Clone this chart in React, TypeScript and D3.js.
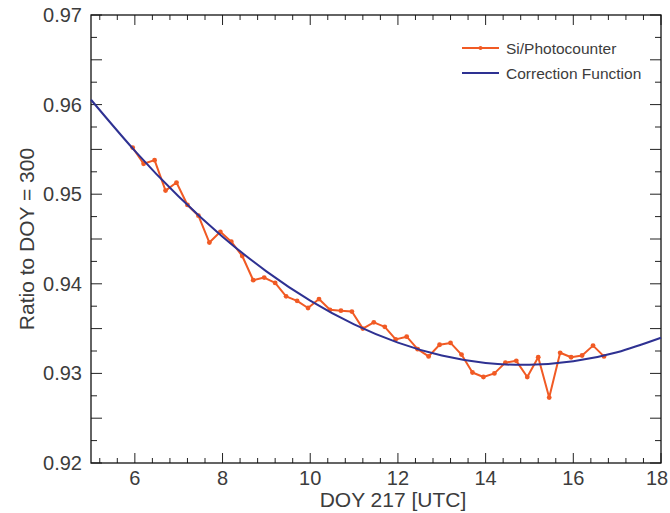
import React from "react";
import * as d3 from "d3";

const W = 670;
const H = 513;

// Si/Photocounter ratio series (hour of DOY 217, UTC)
const hours = [
  5.95, 6.2, 6.45, 6.7, 6.95, 7.2, 7.45, 7.7, 7.95, 8.2, 8.45, 8.7, 8.95, 9.2, 9.45,
  9.7, 9.95, 10.2, 10.45, 10.7, 10.95, 11.2, 11.45, 11.7, 11.95, 12.2, 12.45, 12.7,
  12.95, 13.2, 13.45, 13.7, 13.95, 14.2, 14.45, 14.7, 14.95, 15.2, 15.45, 15.7,
  15.95, 16.2, 16.45, 16.7,
];
const ratios = [
  0.9552, 0.9534, 0.9538, 0.9504, 0.9513, 0.9488, 0.9476, 0.9446, 0.9458, 0.9447,
  0.9431, 0.9404, 0.9407, 0.9401, 0.9386, 0.9381, 0.9373, 0.9383, 0.9371, 0.937,
  0.9369, 0.935, 0.9357, 0.9352, 0.9338, 0.9341, 0.9327, 0.9319, 0.9332, 0.9334,
  0.9321, 0.9301, 0.9296, 0.93, 0.9312, 0.9314, 0.9296, 0.9318, 0.9273, 0.9323,
  0.9318, 0.932, 0.9331, 0.9319,
];

// Correction function read at whole hours
const corrHours = [5, 6, 7, 8, 9, 10, 11, 12, 13, 14, 15, 16, 17, 18];
const corrValues = [
  0.96054, 0.95484, 0.94974, 0.94526, 0.94139, 0.93812, 0.93547, 0.93343, 0.93199,
  0.93117, 0.93096, 0.93135, 0.93236, 0.93398,
];

const xTickLabels = [6, 8, 10, 12, 14, 16, 18];
const yTickLabels = [0.92, 0.93, 0.94, 0.95, 0.96, 0.97];
const seriesNames = ["Si/Photocounter", "Correction Function"];

const ORANGE = "#f15a24";
const BLUE = "#2e3192";
const TEXT = "#3c3c3c";
const FONT = "'Liberation Sans', Arial, Helvetica, sans-serif";

export default function App() {
  const left = 91, right = 661, top = 15, bottom = 463;
  const x = d3.scaleLinear().domain([5, 18]).range([left, right]);
  const y = d3.scaleLinear().domain([0.92, 0.97]).range([bottom, top]);

  const pts = hours.map((h, i) => [h, ratios[i]] as [number, number]);
  const corr = corrHours.map((h, i) => [h, corrValues[i]] as [number, number]);

  const line = d3
    .line<[number, number]>()
    .x((d) => x(d[0]))
    .y((d) => y(d[1]));
  const curve = d3
    .line<[number, number]>()
    .x((d) => x(d[0]))
    .y((d) => y(d[1]))
    .curve(d3.curveNatural);

  // x ticks every 0.4 around 6 (major every 2), y ticks every 0.0025 (long every 0.005)
  const xTicks = d3
    .range(-2, 31)
    .map((k) => ({ v: 6 + 0.4 * k, major: k % 5 === 0 }))
    .filter((t) => t.v >= 5 - 1e-9 && t.v <= 18 + 1e-9);
  const yTicks = d3.range(0, 21).map((k) => ({ v: 0.92 + 0.0025 * k, major: k % 2 === 0 }));

  const legX1 = 462, legX2 = 499, legTextX = 506;
  const legY = [48, 73];

  return (
    <svg
      width={W}
      height={H}
      style={{ position: "absolute", left: 0, top: 0, background: "#fff" }}
      fontFamily={FONT}
    >
      <rect x={0} y={0} width={W} height={H} fill="#fff" />

      {/* ticks */}
      {xTicks.map((t, i) => {
        const px = x(t.v);
        const len = t.major ? 10 : 5;
        return (
          <g key={"xt" + i} stroke="#222" strokeWidth={1}>
            <line x1={px} x2={px} y1={bottom} y2={bottom - len} />
            <line x1={px} x2={px} y1={top} y2={top + len} />
          </g>
        );
      })}
      {yTicks.map((t, i) => {
        const py = y(t.v);
        const len = t.major ? 11 : 6;
        return (
          <g key={"yt" + i} stroke="#222" strokeWidth={1}>
            <line x1={left} x2={left + len} y1={py} y2={py} />
            <line x1={right} x2={right - len} y1={py} y2={py} />
          </g>
        );
      })}

      {/* box */}
      <rect
        x={left}
        y={top}
        width={right - left}
        height={bottom - top}
        fill="none"
        stroke="#111"
        strokeWidth={1.3}
      />

      {/* tick labels */}
      {xTickLabels.map((v) => {
        const px = Math.min(x(v), W - 13);
        return (
          <text
            key={"xl" + v}
            x={px}
            y={485}
            textAnchor="middle"
            fontSize={20}
            fill={TEXT}
          >
            {v}
          </text>
        );
      })}
      {yTickLabels.map((v) => (
        <text
          key={"yl" + v}
          x={82}
          y={y(v) + 7}
          textAnchor="end"
          fontSize={20}
          fill={TEXT}
        >
          {v.toFixed(2)}
        </text>
      ))}

      {/* axis titles */}
      <text x={393} y={507} textAnchor="middle" fontSize={21} fill={TEXT}>
        DOY 217 [UTC]
      </text>
      <text
        transform={`translate(34, ${(top + bottom) / 2}) rotate(-90)`}
        textAnchor="middle"
        fontSize={21}
        fill={TEXT}
      >
        Ratio to DOY = 300
      </text>

      {/* data */}
      <path d={line(pts) || ""} fill="none" stroke={ORANGE} strokeWidth={2} strokeLinejoin="round" />
      {pts.map((p, i) => (
        <circle key={"p" + i} cx={x(p[0])} cy={y(p[1])} r={2.4} fill={ORANGE} />
      ))}
      <path d={curve(corr) || ""} fill="none" stroke={BLUE} strokeWidth={2} />

      {/* legend */}
      <line x1={legX1} x2={legX2} y1={legY[0]} y2={legY[0]} stroke={ORANGE} strokeWidth={2} />
      <circle cx={(legX1 + legX2) / 2} cy={legY[0]} r={2} fill={ORANGE} />
      <line x1={legX1} x2={legX2} y1={legY[1]} y2={legY[1]} stroke={BLUE} strokeWidth={2} />
      {seriesNames.map((n, i) => (
        <text key={n} x={legTextX} y={legY[i] + 5.5} fontSize={15.5} fill={TEXT}>
          {n}
        </text>
      ))}
    </svg>
  );
}
